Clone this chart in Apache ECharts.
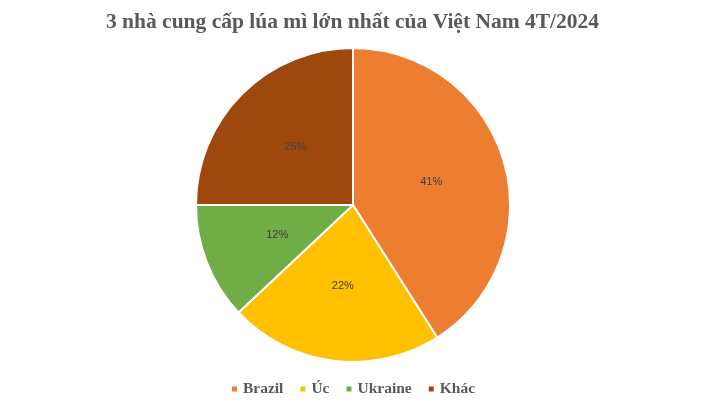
<!DOCTYPE html>
<html>
<head>
<meta charset="utf-8">
<script src="https://cdn.jsdelivr.net/npm/echarts@6/dist/echarts.min.js"></script>
<style>
  html, body { margin: 0; padding: 0; background: #fff; }
  #chart { width: 705px; height: 405px; }
</style>
</head>
<body>
<div id="chart"></div>
<script>
const categories = ['Brazil', 'Úc', 'Ukraine', 'Khác']
const shares = [41, 22, 12, 25]
const colors = ['#ED7D31', '#FFC000', '#70AD47', '#9E480E']

const chart = echarts.init(document.getElementById('chart'))
chart.setOption({
    animation: false,
    title: {
        text: '3 nhà cung cấp lúa mì lớn nhất của Việt Nam 4T/2024',
        left: 'center',
        top: 6,
        textStyle: {
            fontFamily: 'Liberation Serif',
            fontWeight: 'bold',
            fontSize: 21.5,
            color: '#595959'
        }
    },
    legend: {
        bottom: 3,
        left: 'center',
        icon: 'rect',
        itemWidth: 7,
        itemHeight: 7,
        itemGap: 15,
        textStyle: {
            fontFamily: 'Liberation Serif',
            fontWeight: 'bold',
            fontSize: 15.5,
            color: '#595959'
        },
        data: categories
    },
    series: [{
        type: 'pie',
        center: [353, 205],
        radius: 157,
        startAngle: 90,
        clockwise: true,
        color: colors,
        itemStyle: { borderColor: '#fff', borderWidth: 2 },
        label: {
            position: 'inside',
            formatter: '{c}%',
            fontFamily: 'Liberation Sans',
            fontSize: 11,
            color: '#404040'
        },
        labelLine: { show: false },
        data: categories.map((name, i) => ({ name, value: shares[i] }))
    }]
})
</script>
</body>
</html>
